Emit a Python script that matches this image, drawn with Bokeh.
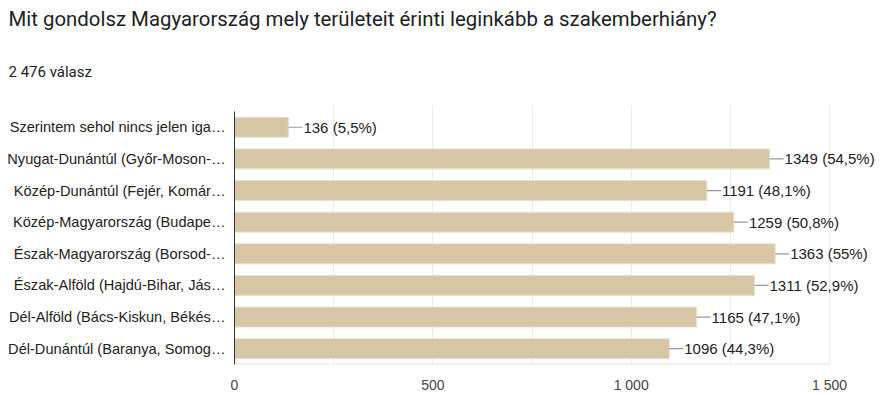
from bokeh.plotting import figure
from bokeh.models import (ColumnDataSource, Range1d, LabelSet, Title,
                          SingleIntervalTicker, FixedTicker)
from bokeh.core.properties import value
from bokeh.embed import file_html
from bokeh.resources import INLINE

title_text = "Mit gondolsz Magyarország mely területeit érinti leginkább a szakemberhiány?"
subtitle_text = "2 476 válasz"

categories = [
    "Szerintem sehol nincs jelen iga…",
    "Nyugat-Dunántúl (Győr-Moson-…",
    "Közép-Dunántúl (Fejér, Komár…",
    "Közép-Magyarország (Budape…",
    "Észak-Magyarország (Borsod-…",
    "Észak-Alföld (Hajdú-Bihar, Jás…",
    "Dél-Alföld (Bács-Kiskun, Békés…",
    "Dél-Dunántúl (Baranya, Somog…",
]
counts = [136, 1349, 1191, 1259, 1363, 1311, 1165, 1096]
percents = ["5,5%", "54,5%", "48,1%", "50,8%", "55%", "52,9%", "47,1%", "44,3%"]
x_ticks = [0, 500, 1000, 1500]
x_tick_labels = ["0", "500", "1 000", "1 500"]

W, H = 882, 395
left = 234          # frame left edge (px)
axis_end_px = 829   # px position of x = 1500
bottom_border = 28
chart_top_px = 112      # where the category area starts
frame_top_est = 106     # where the title panels end
x_max = 1500
px_per_unit = (axis_end_px - left) / x_max
x_end = (W - left) / px_per_unit   # frame runs to the right edge so value labels fit
leader_px = 14

n = len(categories)
band_px = (H - bottom_border - chart_top_px) / n
y_end = n - 0.5 + (chart_top_px - frame_top_est) / band_px

ypos = list(range(n - 1, -1, -1))
labels = [f"{c} ({p})" for c, p in zip(counts, percents)]
source = ColumnDataSource(dict(
    y=ypos, val=counts, lab=labels,
    lead_end=[c + leader_px / px_per_unit for c in counts],
))

p = figure(width=W, height=H, output_backend="svg", toolbar_location=None,
           title_location=None,
           x_range=Range1d(0, x_end), y_range=Range1d(-0.5, y_end),
           min_border_left=left, min_border_right=0,
           min_border_top=0, min_border_bottom=bottom_border)
p.outline_line_color = None
p.background_fill_color = "white"
p.border_fill_color = "white"

p.hbar(y="y", right="val", left=0, height=0.63, source=source,
       fill_color="#d6c6a5", line_color="#e8e0cc", line_width=1)
p.segment(x0="val", y0="y", x1="lead_end", y1="y", source=source,
          line_color="#9a9a9a", line_width=1.2)
# bottom baseline of the chart area
p.segment(x0=[0], y0=[-0.5], x1=[x_max], y1=[-0.5], line_color="#e3e3e3", line_width=2)

ls = LabelSet(x="val", y="y", text="lab", source=source, x_offset=leader_px + 1,
              text_baseline="middle", text_font=value("Liberation Sans"),
              text_font_size="15px", text_color="#222222")
p.add_layout(ls)

# axes
p.xaxis.ticker = FixedTicker(ticks=x_ticks)
p.xaxis.major_label_overrides = {t: l for t, l in zip(x_ticks, x_tick_labels)}
p.xaxis.axis_line_color = None
p.xaxis.major_tick_line_color = None
p.xaxis.minor_tick_line_color = None
p.xaxis.major_label_standoff = 6
p.xaxis.major_label_text_font = "Liberation Sans"
p.xaxis.major_label_text_font_size = "14px"
p.xaxis.major_label_text_color = "#444444"

p.yaxis.ticker = FixedTicker(ticks=ypos)
p.yaxis.bounds = (-0.5, n - 0.5)
p.yaxis.major_label_overrides = {y: c for y, c in zip(ypos, categories)}
p.yaxis.axis_line_color = "#333333"
p.yaxis.axis_line_width = 1
p.yaxis.major_tick_line_color = None
p.yaxis.minor_tick_line_color = None
p.yaxis.major_label_standoff = 3
p.yaxis.major_label_text_font = "Liberation Sans"
p.yaxis.major_label_text_font_size = "14.6px"
p.yaxis.major_label_text_color = "#222222"

p.xgrid.ticker = SingleIntervalTicker(interval=250)
p.xgrid.grid_line_color = "#ebebeb"
p.ygrid.grid_line_color = None

p.add_layout(Title(text=subtitle_text, align="left", offset=8 - left, standoff=49.5,
                   text_font="Roboto", text_font_size="15px", text_font_style="normal",
                   text_color="#202124"), "above")
p.add_layout(Title(text=title_text, align="left", offset=8 - left, standoff=9,
                   text_font="Roboto", text_font_size="20.4px", text_font_style="normal",
                   text_color="#202124"), "above")

open("out.html", "w").write(file_html(p, INLINE))
